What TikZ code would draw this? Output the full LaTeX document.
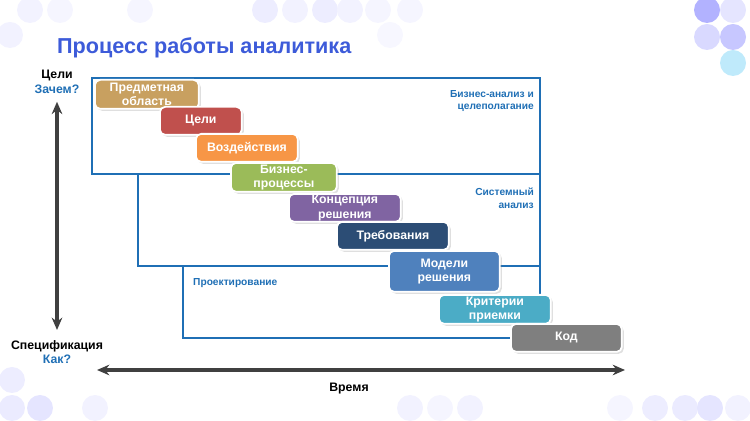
\documentclass[tikz,border=0pt]{standalone}
\usepackage{fontspec}
\setmainfont{Liberation Sans}
\usetikzlibrary{arrows.meta,shadows,calc}
\definecolor{framecol}{HTML}{1F6FB5}
\definecolor{titlecol}{HTML}{3D5BD9}
\definecolor{askcol}{HTML}{1F6FB5}
\tikzset{
  stage/.style={draw=white,line width=1pt,rounded corners=3pt,
    drop shadow={opacity=.25,shadow xshift=.04cm,shadow yshift=-.04cm},
    text=white,font=\bfseries\fontsize{7}{8.3}\selectfont,align=center,inner sep=0pt,anchor=north west},
  phase/.style={draw=framecol,line width=1.2pt},
  phaselabel/.style={text=framecol,font=\bfseries\fontsize{5.8}{7.2}\selectfont},
  axis/.style={draw=black!75,line width=2pt,{Stealth[length=7pt,width=6pt]}-{Stealth[length=7pt,width=6pt]}},
  dot/.style={fill=#1,draw=none}
}
\begin{document}
\begin{tikzpicture}[x=0.02cm,y=-0.02cm]
  \useasboundingbox (0,0) rectangle (750,421);

  % decorative dots
  \foreach \x/\y/\c in {30/10/blue!5,60/10/blue!4,10/35/blue!5,140/10/blue!4,
      265/10/blue!7,295/10/blue!5,325/10/blue!7,350/10/blue!5,378/10/blue!4,
      410/10/blue!4,390/35/blue!3,
      707/10/blue!30,733/10/blue!10,707/37/blue!15,733/37/blue!22,733/63/cyan!25,
      12/380/blue!7,12/408/blue!8,40/408/blue!10,95/408/blue!5,
      410/408/blue!5,440/408/blue!4,470/408/blue!5,620/408/blue!4,
      655/408/blue!7,685/408/blue!8,710/408/blue!10,738/408/blue!5}
    \fill[dot=\c] (\x,\y) circle (13);

  \node[text=titlecol,font=\bfseries\fontsize{12.3}{14}\selectfont,anchor=west] (title) at (51,48) {Процесс работы аналитика};

  % phases
  \draw[phase] (92,78) rectangle (540,174);
  \draw[phase] (138,174) rectangle (540,266);
  \draw[phase] (183,266) rectangle (540,338);
  \node[phaselabel,align=right,anchor=north east] (bizlabel) at (540,84) {Бизнес-анализ и\\целеполагание};
  \node[phaselabel,align=right,anchor=north east] (syslabel) at (540,182) {Системный\\анализ};
  \node[phaselabel,anchor=west] (designlabel) at (187,283) {Проектирование};

  % stages
  \node[stage,fill={rgb,255:red,200;green,160;blue,96},minimum width=2.08cm,minimum height=0.58cm] (domain) at (94,79) {Предметная\\область};
  \node[stage,fill={rgb,255:red,192;green,80;blue,77},minimum width=1.64cm,minimum height=0.56cm] (goals) at (159,106) {Цели};
  \node[stage,fill={rgb,255:red,247;green,150;blue,70},minimum width=2.04cm,minimum height=0.56cm] (impact) at (195,133) {Воздействия};
  \node[stage,fill={rgb,255:red,155;green,187;blue,89},minimum width=2.12cm,minimum height=0.58cm] (process) at (230,162) {Бизнес-\\процессы};
  \node[stage,fill={rgb,255:red,128;green,100;blue,162},minimum width=2.24cm,minimum height=0.56cm] (concept) at (288,193) {Концепция\\решения};
  \node[stage,fill={rgb,255:red,44;green,77;blue,117},minimum width=2.24cm,minimum height=0.56cm] (reqs) at (336,221) {Требования};
  \node[stage,fill={rgb,255:red,79;green,129;blue,189},minimum width=2.22cm,minimum height=0.82cm] (models) at (388,250) {Модели\\решения};
  \node[stage,fill={rgb,255:red,75;green,172;blue,198},minimum width=2.24cm,minimum height=0.58cm] (criteria) at (438,294) {Критерии\\приемки};
  \node[stage,fill={rgb,255:red,127;green,127;blue,127},minimum width=2.22cm,minimum height=0.56cm] (code) at (510,323) {Код};

  % axes
  \node[font=\bfseries\fontsize{7}{8.3}\selectfont,align=center] (why) at (57,82) {Цели\\\textcolor{askcol}{Зачем?}};
  \node[font=\bfseries\fontsize{7}{8.3}\selectfont,align=center] (how) at (57,352) {Спецификация\\\textcolor{askcol}{Как?}};
  \draw[axis] ($(why.south)+(0,2)$) coordinate (vtop) -- ($(how.north)+(0,-4)$) coordinate (vbot);
  \coordinate (tstart) at (97,370);
  \coordinate (tend) at (625,370);
  \draw[axis] (tstart) -- (tend);
  \node[font=\bfseries\fontsize{7}{8.3}\selectfont] (time) at (349,389) {Время};
\end{tikzpicture}
\end{document}
